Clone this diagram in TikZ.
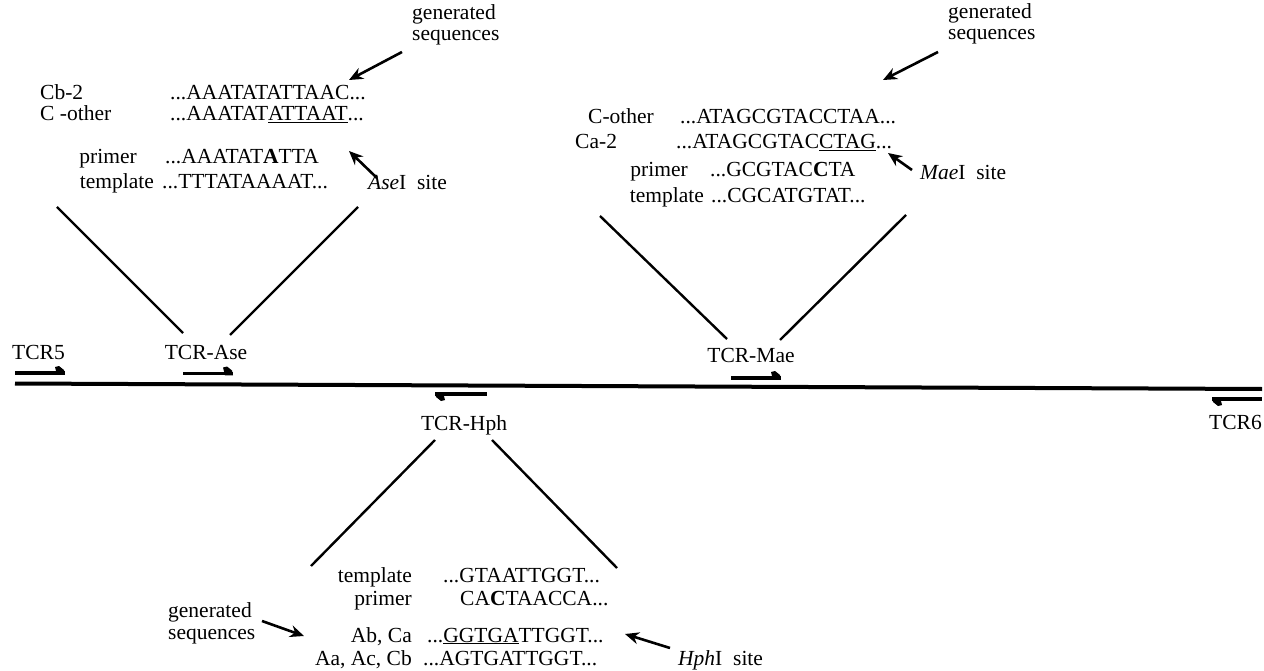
\documentclass[tikz,border=0pt]{standalone}
\usepackage{fontspec}
\setmainfont{Liberation Serif}
\usetikzlibrary{arrows.meta}
\newcommand\fwdprimer[3]{%
  \draw[pbar] (#1,#3) -- (#2,#3);
  \fill (#2,#3+1.8) -- (#2-1,#3-3) -- (#2-6,#3-7) -- (#2-10,#3-6) -- (#2-8,#3+1.8) -- cycle;}
\newcommand\revprimer[3]{%
  \draw[pbar] (#1,#3) -- (#2,#3);
  \fill (#1,#3-1.8) -- (#1+1,#3+3) -- (#1+6,#3+7) -- (#1+10,#3+6) -- (#1+8,#3-1.8) -- cycle;}
\begin{document}
\begin{tikzpicture}[x=1pt,y=-1pt,
  txt/.style={inner sep=0pt, font=\fontsize{21.5}{24}\selectfont},
  lw/.style={txt, anchor=base west},
  le/.style={txt, anchor=base east},
  lc/.style={txt, anchor=base},
  vline/.style={line width=2.4pt},
  ptr/.style={line width=2.6pt, -{Stealth[length=14pt,width=12pt]}},
  dna/.style={line width=4pt},
  pbar/.style={line width=3.6pt}]
\useasboundingbox (0,0) rectangle (1264,671);
\fill[white] (0,0) rectangle (1264,671);

% ---------- main DNA line and primers ----------
\coordinate (dnaL) at (15,383.5);
\coordinate (dnaR) at (1262,389);
\draw[dna] (dnaL) -- (dnaR);
\fwdprimer{15}{65}{373}
\fwdprimer{183}{233}{373.5}
\fwdprimer{731}{781}{378}
\revprimer{435}{487}{394}
\revprimer{1212}{1262}{399}

\node[lw] (tcr5) at (12,359) {TCR5};
\node[lc] (tcrase) at (206,359) {TCR-Ase};
\node[lc] (tcrmae) at (751,362) {TCR-Mae};
\node[lc] (tcrhph) at (464,430) {TCR-Hph};
\node[le] (tcr6) at (1262,429) {TCR6};

% ---------- Ase block ----------
\coordinate (aseL) at (57,207);  \coordinate (aseLb) at (183,333);
\coordinate (aseR) at (358,207); \coordinate (aseRb) at (230,335);
\draw[vline] (aseL) -- (aseLb);
\draw[vline] (aseR) -- (aseRb);

\node[lw] (genA1) at (412,20) {generated};
\node[lw] (genA2) at (412,41) {sequences};
\coordinate (genAt) at (402,52); \coordinate (genAh) at (349,80);
\draw[ptr] (genAt) -- (genAh);

\node[lw] (cb2) at (40,100) {Cb-2};
\node[lw] (cb2s) at (170,100) {...AAATATATTAAC...};
\node[lw] (cother) at (40,121) {C -other};
\node[lw] (cothers) at (170,121) {...AAATAT\underline{ATTAAT}...};
\node[le] (primA) at (137,164) {primer};
\node[lw] (primAs) at (165,164) {...AAATAT\textbf{A}TTA};
\node[le] (tempA) at (154,189) {template};
\node[lw] (tempAs) at (162,189) {...TTTATAAAAT...};
\node[lw] (aseI) at (368,190) {\textit{Ase}I\ \ site};
\coordinate (aseIt) at (377,178); \coordinate (aseIh) at (349,151);
\draw[ptr] (aseIt) -- (aseIh);

% ---------- Mae block ----------
\coordinate (maeL) at (600,216); \coordinate (maeLb) at (727,339);
\coordinate (maeR) at (906,215); \coordinate (maeRb) at (780,340);
\draw[vline] (maeL) -- (maeLb);
\draw[vline] (maeR) -- (maeRb);

\node[lw] (genB1) at (948,19) {generated};
\node[lw] (genB2) at (948,40) {sequences};
\coordinate (genBt) at (938,52); \coordinate (genBh) at (883,80);
\draw[ptr] (genBt) -- (genBh);

\node[lw] (coth) at (588,124) {C-other};
\node[lw] (coths) at (680,124) {...ATAGCGTACCTAA...};
\node[lw] (ca2) at (575,149) {Ca-2};
\node[lw] (ca2s) at (676,149) {...ATAGCGTAC\underline{CTAG}...};
\node[le] (primB) at (688,177) {primer};
\node[lw] (primBs) at (710,177) {...GCGTAC\textbf{C}TA};
\node[le] (tempB) at (704,203) {template};
\node[lw] (tempBs) at (711,203) {...CGCATGTAT...};
\node[lw] (maeI) at (920,180) {\textit{Mae}I\ \ site};
\coordinate (maeIt) at (912,170); \coordinate (maeIh) at (888,153);
\draw[ptr] (maeIt) -- (maeIh);

% ---------- Hph block ----------
\coordinate (hphL) at (435,440); \coordinate (hphLb) at (311,566);
\coordinate (hphR) at (492,440); \coordinate (hphRb) at (617,568);
\draw[vline] (hphL) -- (hphLb);
\draw[vline] (hphR) -- (hphRb);

\node[le] (tempC) at (412,582) {template};
\node[lw] (tempCs) at (443,582) {...GTAATTGGT...};
\node[le] (primC) at (412,605) {primer};
\node[lw] (primCs) at (460,605) {CA\textbf{C}TAACCA...};
\node[le] (abca) at (412,642) {Ab, Ca};
\node[lw] (abcas) at (427,642) {...\underline{GGTGA}TTGGT...};
\node[le] (aaac) at (412,665) {Aa, Ac, Cb};
\node[lw] (aaacs) at (423,665) {...AGTGATTGGT...};

\node[lw] (genC1) at (168,617) {generated};
\node[lw] (genC2) at (168,639) {sequences};
\coordinate (genCt) at (262,621) ; \coordinate (genCh) at (304,636);
\draw[ptr] (genCt) -- (genCh);

\node[lw] (hphI) at (678,665) {\textit{Hph}I\ \ site};
\coordinate (hphIt) at (670,648); \coordinate (hphIh) at (625,634);
\draw[ptr] (hphIt) -- (hphIh);
\end{tikzpicture}
\end{document}
